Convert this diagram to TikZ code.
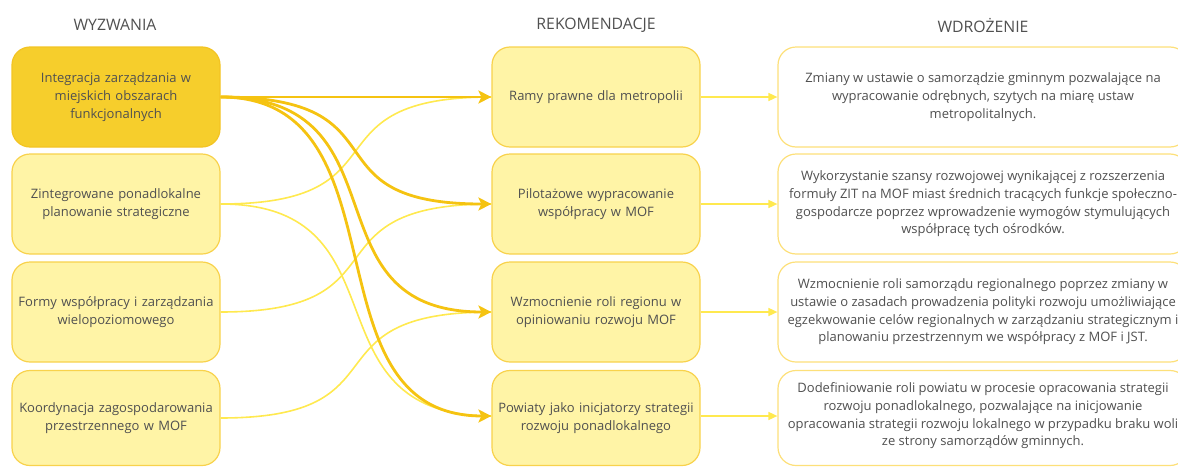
\documentclass[tikz,border=0pt]{standalone}
\usepackage{fontspec}
\setmainfont{Open Sans}
\usetikzlibrary{arrows.meta}
\definecolor{darkfill}{HTML}{F6CE2C}
\definecolor{darkborder}{HTML}{F3C423}
\definecolor{lightfill}{HTML}{FFF4A6}
\definecolor{lightborder}{HTML}{F8D24C}
\definecolor{rborder}{HTML}{FDE07A}
\definecolor{thk}{HTML}{F5C311}
\definecolor{thn}{HTML}{FFE94F}
\definecolor{txt}{HTML}{505050}
\begin{document}
\begin{tikzpicture}[x=1pt,y=-1pt,
  box/.style={rounded corners=18pt, minimum width=208pt, minimum height=100pt,
    text width=206pt, align=center, inner sep=0pt, line width=1.2pt,
    font=\fontsize{13}{18}\selectfont, text=txt},
  darkbox/.style={box, fill=darkfill, draw=darkborder},
  lightbox/.style={box, fill=lightfill, draw=lightborder},
  rbox/.style={rounded corners=18pt, minimum width=410pt, minimum height=100pt,
    inner sep=0pt, line width=1.2pt, fill=white, draw=rborder},
  rtext/.style={align=center, inner sep=0pt, font=\fontsize{13}{17.7}\selectfont, text=txt},
  header/.style={font=\fontsize{15.8}{18}\selectfont, text=txt},
  thickarr/.style={line width=2.8pt, draw=thk, -{Stealth[length=13pt,width=13pt,inset=3pt]}},
  thinline/.style={line width=1.6pt, draw=thn},
  thinarr/.style={line width=1.6pt, draw=thn, -{Triangle[length=9pt,width=8pt]}}
]
\clip (0,0) rectangle (1178,466);

% headers
\node[header] (h1) at (115,25) {WYZWANIA};
\node[header] (h2) at (596,25) {REKOMENDACJE};
\node[header] (h3) at (983,25) {WDROŻENIE};

% left column
\node[darkbox] (l1) at (116,97) {Integracja zarządzania w\\ miejskich obszarach\\ funkcjonalnych};
\node[lightbox] (l2) at (116,204) {Zintegrowane ponadlokalne\\ planowanie strategiczne};
\node[lightbox] (l3) at (116,312) {Formy współpracy i zarządzania\\ wielopoziomowego};
\node[lightbox, minimum height=95pt] (l4) at (116,418) {Koordynacja zagospodarowania\\ przestrzennego w MOF};

% middle column
\node[lightbox] (m1) at (596,97) {Ramy prawne dla metropolii};
\node[lightbox] (m2) at (596,204) {Pilotażowe wypracowanie\\ współpracy w MOF};
\node[lightbox] (m3) at (596,312) {Wzmocnienie roli regionu w\\ opiniowaniu rozwoju MOF};
\node[lightbox, minimum height=95pt] (m4) at (596,418) {Powiaty jako inicjatorzy strategii\\ rozwoju ponadlokalnego};

% right column
\node[rbox] (r1) at (983,97) {};
\node[rbox] (r2) at (983,204) {};
\node[rbox] (r3) at (983,312) {};
\node[rbox, minimum height=95pt] (r4) at (983,418) {};
\node[rtext] (t1) at (r1) {Zmiany w ustawie o samorządzie gminnym pozwalające na\\ wypracowanie odrębnych, szytych na miarę ustaw\\ metropolitalnych.};
\node[rtext] (t2) at (r2) {Wykorzystanie szansy rozwojowej wynikającej z rozszerzenia\\ formuły ZIT na MOF miast średnich tracących funkcje społeczno-\\ gospodarcze poprzez wprowadzenie wymogów stymulujących\\ współpracę tych ośrodków.};
\node[rtext] (t3) at (r3) {Wzmocnienie roli samorządu regionalnego poprzez zmiany w\\ ustawie o zasadach prowadzenia polityki rozwoju umożliwiające\\ egzekwowanie celów regionalnych w zarządzaniu strategicznym i\\ planowaniu przestrzennym we współpracy z MOF i JST.};
\node[rtext] (t4) at ([yshift=2pt]r4.center) {Dodefiniowanie roli powiatu w procesie opracowania strategii\\ rozwoju ponadlokalnego, pozwalające na inicjowanie\\ opracowania strategii rozwoju lokalnego w przypadku braku woli\\ ze strony samorządów gminnych.};

% thin connectors
\draw[thinline] (l2.east) .. controls +(190,0) and +(-190,0) .. (m1.west);
\draw[thinline] (l2.east) .. controls +(190,0) and +(-190,0) .. ([yshift=2pt]m4.west);
\draw[thinline] (l3.east) .. controls +(190,0) and +(-190,0) .. (m2.west);
\draw[thinline] (l4.east) .. controls +(190,0) and +(-190,0) .. (m3.west);

% thick connectors
\draw[thickarr] (l1.east) -- (m1.west);
\draw[thickarr] (l1.east) .. controls +(190,0) and +(-190,0) .. (m2.west);
\draw[thickarr] (l1.east) .. controls +(190,0) and +(-190,0) .. (m3.west);
\draw[thickarr] (l1.east) .. controls +(190,0) and +(-190,0) .. ([yshift=2pt]m4.west);

% right arrows
\draw[thinarr] (m1.east) -- (r1.west);
\draw[thinarr] (m2.east) -- (r2.west);
\draw[thinarr] (m3.east) -- (r3.west);
\draw[thinarr] ([yshift=2pt]m4.east) -- ([yshift=2pt]r4.west);
\end{tikzpicture}
\end{document}
